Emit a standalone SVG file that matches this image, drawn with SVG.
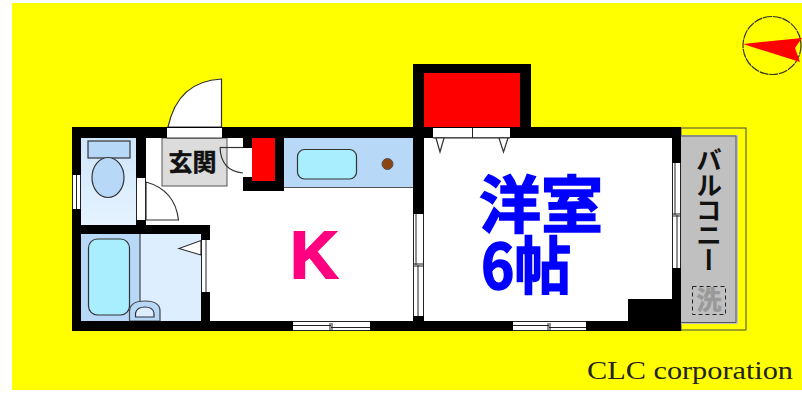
<svg xmlns="http://www.w3.org/2000/svg" width="802" height="398" viewBox="0 0 802 398">
<defs>
<linearGradient id="pale" x1="0" y1="0" x2="0" y2="1"><stop offset="0" stop-color="#cfe6fb"/><stop offset="1" stop-color="#e6f3ff"/></linearGradient>
</defs>
<style>
.w{fill:#000}
.o{fill:#fff}
.l{fill:none;stroke:#333;stroke-width:1.2}
.lw{fill:#fff;stroke:#333;stroke-width:1.2}
.t{stroke:#222;stroke-width:1}
.jp{font-family:"Noto Sans CJK JP","Noto Sans",sans-serif;font-weight:700}
</style>
<rect width="802" height="398" fill="#fff"/>
<rect x="12" y="3" width="790" height="387" fill="#ffff00"/>

<g id="compass">
<circle cx="772" cy="45.500" r="29" fill="none" stroke="#333" stroke-width="1.200" stroke-dasharray="9 0.800"/>
<polygon points="743,44 802,38 795,48 800,62" fill="#ff0000"/>
</g>

<g id="balcony">
<rect x="681" y="128" width="65" height="202" fill="#ffff00" stroke="#444" stroke-width="1"/>
<rect x="681" y="135" width="57" height="189" fill="#c0c0c0"/>
<path d="M681 136H736V322.500H681" fill="none" stroke="#555" stroke-width="1"/>
<text class="jp" x="709" y="147" font-size="26" fill="#111" style="writing-mode:vertical-rl" letter-spacing="-1">バルコニー</text>
<rect x="692.500" y="286.500" width="33" height="28" fill="none" stroke="#222" stroke-width="1" stroke-dasharray="4 3"/>
<text class="jp" x="709" y="309" font-size="25" fill="#999" stroke="#999" stroke-width="0.600" text-anchor="middle">洗</text>
</g>

<g id="floor">
<rect x="72" y="127" width="609" height="204" fill="#fff"/>
</g>

<g id="toilet">
<rect x="81" y="138" width="55" height="87" fill="url(#pale)"/>
<rect x="88" y="141" width="42" height="17" fill="#b8d8f8" stroke="#333" stroke-width="1.200"/>
<ellipse cx="108" cy="177.500" rx="16" ry="20" fill="#b8d8f8" stroke="#333" stroke-width="1.200"/>
</g>

<g id="bath">
<rect x="81" y="234" width="120" height="87" fill="#dceeff"/>
<rect x="81" y="234" width="59" height="87" fill="#b8d8f8"/>
<line x1="140" y1="234" x2="140" y2="302" stroke="#444" stroke-width="1.200"/>
<rect x="88.500" y="239" width="41" height="76" rx="9" fill="#a8eeff" stroke="#333" stroke-width="1.200"/>
<path d="M129.500 321V311Q130 301 145 301Q160 301 160 311V321Z" fill="#b8d8f8" stroke="#444" stroke-width="1.200"/>
<path d="M135.500 317V313Q137 307 145 307Q153 307 154 313V317Z" fill="#dceeff" stroke="#333" stroke-width="1.200"/>
<polygon points="179,248.500 201,240.500 201,255" class="lw"/>
</g>

<g id="kitchen">
<rect x="284" y="138" width="129" height="49.500" fill="#b8d8f8"/>
<line x1="284" y1="187.500" x2="413" y2="187.500" stroke="#555" stroke-width="1"/>
<rect x="297.500" y="149.500" width="59" height="29.500" rx="7" fill="#a8eeff" stroke="#333" stroke-width="1.200"/>
<circle cx="387.500" cy="164" r="5.500" fill="#8b4513" stroke="#555" stroke-width="1"/>
<text x="314" y="278" font-family="Liberation Sans,sans-serif" font-weight="700" font-size="66" fill="#ff0080" stroke="#ff0080" stroke-width="2" text-anchor="middle">K</text>
</g>

<g id="entrance">
<path class="lw" d="M221.500 79Q178 81 168 127H221.500Z"/>
<rect x="162" y="138" width="65" height="48" fill="#dcdcdc" stroke="#555" stroke-width="1"/>
<text class="jp" x="192.500" y="171" font-size="24" fill="#111" stroke="#111" stroke-width="0.500" text-anchor="middle">玄関</text>
<path class="l" d="M220 147.500H243"/>
<path class="l" d="M220 147.500Q221 171 243 173"/>
<path class="lw" d="M146 182Q175 190 178.500 220H146Z"/>
</g>

<g id="closet">
<rect x="413" y="64" width="118" height="64" class="w"/>
<rect x="424" y="73" width="96" height="55" fill="#ff0000"/>
<rect x="243" y="138" width="41" height="53" class="w"/>
<rect x="252" y="138" width="23" height="43" fill="#ff0000"/>
<rect x="243" y="148" width="9" height="29" class="o"/>
</g>

<g id="walls">
<rect x="72" y="127" width="609" height="11" class="w"/>
<rect x="72" y="321" width="609" height="10" class="w"/>
<rect x="72" y="127" width="9" height="204" class="w"/>
<rect x="136" y="127" width="10" height="51" class="w"/>
<rect x="136" y="220" width="10" height="6" class="w"/>
<rect x="81" y="225" width="129" height="9" class="w"/>
<rect x="201" y="234" width="9" height="6" class="w"/>
<rect x="201" y="292" width="9" height="30" class="w"/>
<rect x="413" y="127" width="11" height="87" class="w"/>
<rect x="413" y="316" width="11" height="6" class="w"/>
<rect x="672" y="127" width="9" height="36" class="w"/>
<rect x="672" y="268" width="9" height="63" class="w"/>
<rect x="628" y="299" width="53" height="32" class="w"/>
</g>

<g id="openings">
<rect x="167" y="128" width="55" height="10" class="o"/>
<path class="l" d="M167 138H222"/>
<rect x="72" y="175" width="9" height="34" class="o"/>
<path class="t" d="M72.500 175V209M76.500 175V209M80.500 175V209"/>
<rect x="136" y="178" width="10" height="42" class="o"/>
<path class="t" d="M136.500 178V220M145.500 178V220"/>
<rect x="201" y="240" width="9" height="52" class="o"/>
<path class="t" d="M201.500 240V292M206 240V292"/>
<rect x="433" y="128" width="39" height="9.500" class="o"/>
<rect x="473" y="128" width="37" height="9.500" class="o"/>
<path class="t" d="M433 138H510M472.500 128V138"/>
<polygon points="436,138 444,138 440,152" class="lw"/>
<polygon points="499,138 508,138 503.500,152" class="lw"/>

<rect x="293" y="321" width="77" height="10" class="o"/>
<path class="t" d="M293 321.500H370M293 330.500H370M293 325.500H331M331 327.500H370M330 323V330M332 323V330"/>

<rect x="513" y="321" width="73" height="10" class="o"/>
<path class="t" d="M513 321.500H586M513 330.500H586M513 325.500H549M549 327.500H586M548 323V330M550 323V330"/>

<rect x="413" y="214" width="11" height="102" class="o"/>
<path class="t" d="M413.500 214V316M423.500 214V316M416 214V265M418 265V316M414 264H423M414 266H423"/>

<rect x="672" y="163" width="9" height="105" class="o"/>
<path class="t" d="M672.500 163V268M680.500 163V268M675 163V215M677 215V268M673 214H680M673 216H680"/>
</g>

<g id="room">
<text class="jp" font-size="62" fill="#0000ff" stroke="#0000ff" stroke-width="1.500"><tspan x="479" y="228">洋室</tspan><tspan x="481" y="289" textLength="90" lengthAdjust="spacingAndGlyphs">6帖</tspan></text>
</g>

<text x="587" y="379" font-family="Liberation Serif,serif" font-size="25" fill="#222" textLength="206" lengthAdjust="spacingAndGlyphs">CLC corporation</text>
</svg>
